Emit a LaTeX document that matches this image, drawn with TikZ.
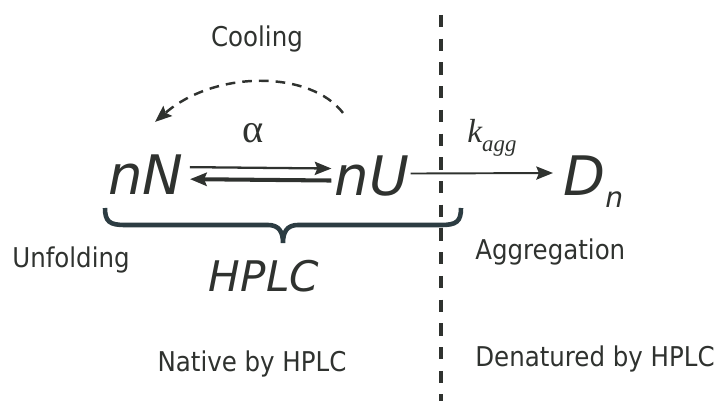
\documentclass[tikz,border=0pt]{standalone}
\usepackage{fontspec}
\setmainfont{DejaVu Sans Condensed}
\newfontfamily\widesans{DejaVu Sans}
\newfontfamily\ratefont{Liberation Serif}
\usepackage{xcolor}
\usetikzlibrary{calc,arrows.meta}

\definecolor{ink}{RGB}{47,50,47}
\definecolor{bracecol}{RGB}{44,60,66}
\tikzset{
  species/.style={font=\widesans\itshape\fontsize{31}{31}\selectfont, text=ink, inner sep=0pt, anchor=base},
  lbl/.style={font=\fontsize{15.5}{16}\selectfont, text=ink, inner sep=0pt},
  rate/.style={text=ink, inner sep=0pt},
  rxn/.style={draw=ink, -{Stealth[length=9.5pt,width=7.5pt,inset=1.5pt]}},
}

\begin{document}
\begin{tikzpicture}[x=0.02cm,y=-0.02cm]
\useasboundingbox (0,0) rectangle (721,401);
% the species
\node[species] (nN) at (146,195) {nN};
\node[species] (nU) at (372,196) {nU};
\node[species, anchor=base west] (Dn) at (563,196) {D\raisebox{-6.3pt}{\fontsize{16}{16}\selectfont n}};
% the HPLC brace over both native and unfolded forms
\draw[bracecol, line width=2.6pt] (105,208) .. controls (105,222) and (110,225) .. (125,225) -- (268,225) .. controls (279,225) and (283,232) .. (283,243) .. controls (283,232) and (287,225) .. (298,225) -- (441,225) .. controls (456,225) and (461,222) .. (461,208);
% the boundary between the two readouts
\draw[ink, line width=2.3pt, dash pattern=on 7pt off 6.5pt] (441,15) -- (441,401);
% equilibrium: thin forward, thick backward
\draw[rxn, line width=1.3pt] ($(nN.east)+(6,-8)$) -- ($(nU.west)+(-3,-8)$);
\draw[rxn, line width=2.3pt] ($(nU.west)+(-3,4)$) -- ($(nN.east)+(6,4)$);
% aggregation step
\draw[rxn, line width=1.1pt] ($(nU.east)+(1,-3)$) -- ($(Dn.base west)+(-10,-23)$);
% cooling, back over the top
\coordinate (coolR) at ($(nU.north)+(-29,-43)$);
\coordinate (coolL) at ($(nN.north)+(9,-33)$);
\draw[rxn, line width=1.4pt, dash pattern=on 5.5pt off 4pt] (coolR) .. controls (310,70) and (215,70) .. (coolL);
% labels
\node[lbl, anchor=base] (cool) at (257,47) {Cooling};
\node[rate, font=\ratefont\fontsize{23}{23}\selectfont, anchor=base] (alpha) at (253,143) {α};
\node[rate, font=\ratefont\itshape\fontsize{19}{19}\selectfont, anchor=base west] (kagg) at (467,143) {k\raisebox{-5pt}{\fontsize{13}{13}\selectfont agg}};
\node[lbl, anchor=base west] (unf) at (12,268) {Unfolding};
\node[species, font=\widesans\itshape\fontsize{24}{24}\selectfont] (hplc) at (264,292) {HPLC};
\node[lbl, anchor=base] (native) at (252,372) {Native by HPLC};
\node[lbl, anchor=base west] (agg) at (475,260) {Aggregation};
\node[lbl, anchor=base west] (denat) at (475,367) {Denatured by HPLC};
\end{tikzpicture}
\end{document}
